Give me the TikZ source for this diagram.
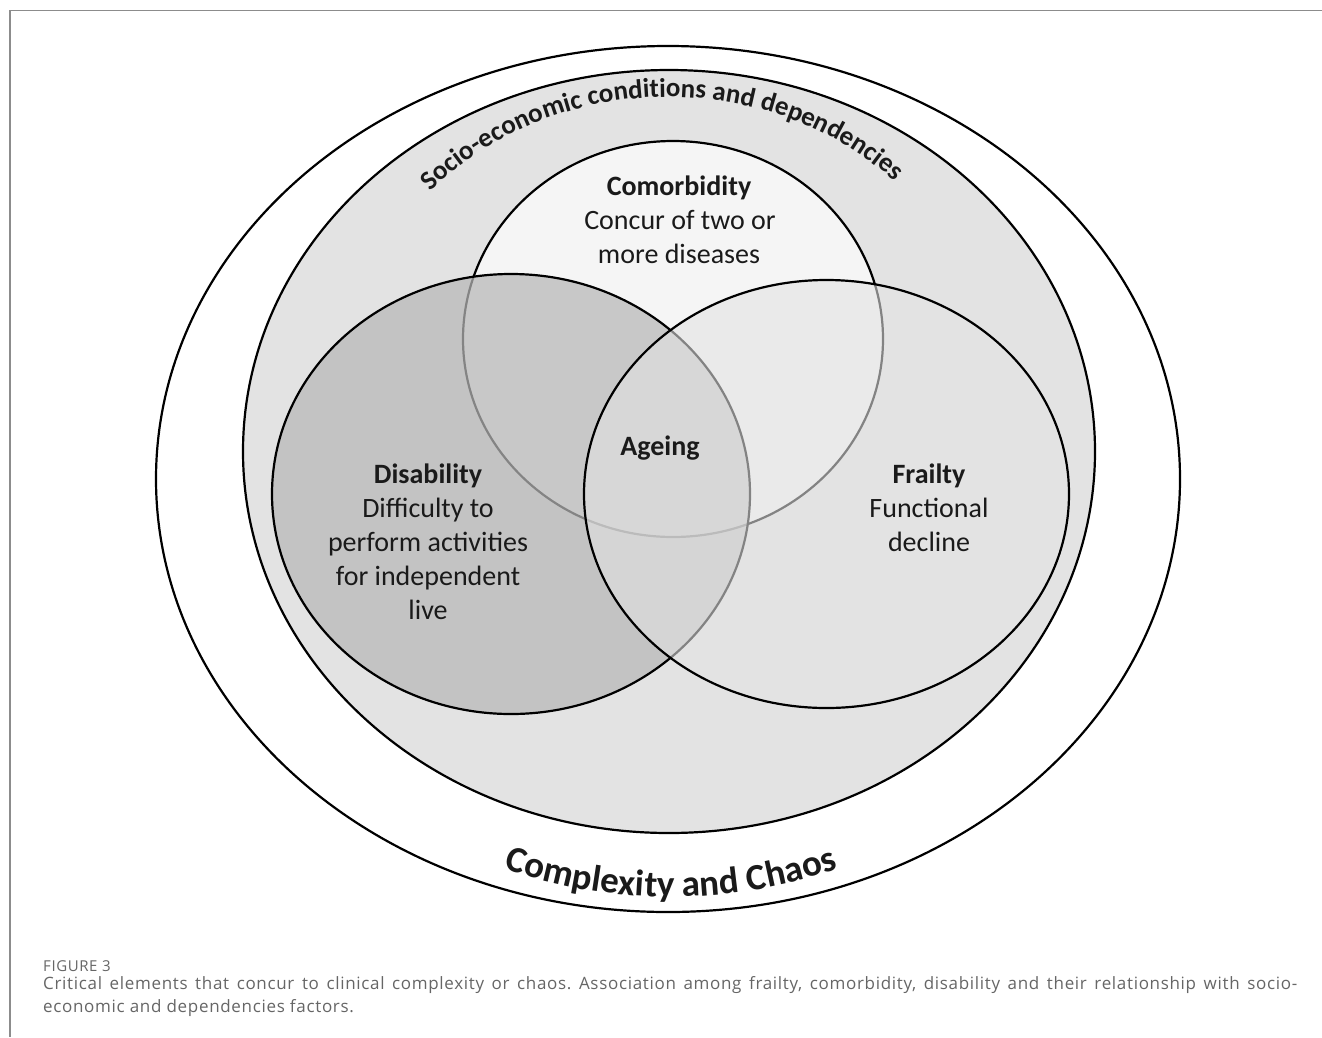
\documentclass[tikz,border=0pt]{standalone}
\usepackage{fontspec}
\setmainfont{Carlito}
\newfontfamily\capfont[LetterSpace=4]{Open Sans}
\usetikzlibrary{decorations.text}
\definecolor{txt}{HTML}{1A1A1A}
\definecolor{framecol}{HTML}{8C8C8C}
\definecolor{capcol}{HTML}{666666}
\definecolor{sociofill}{HTML}{E3E3E3}
\definecolor{disfill}{HTML}{B8B8B8}
\definecolor{frailfill}{HTML}{E3E3E3}
\begin{document}
\begin{tikzpicture}[x=1pt,y=-1pt,
  ring/.style={draw=black, line width=2.2pt},
  lbl/.style={font=\fontsize{28}{34}\selectfont, text=txt, anchor=base, inner sep=0pt},
  hd/.style={lbl, font=\fontsize{28}{34}\selectfont\bfseries},
  capstyle/.style={anchor=base west, inner sep=0pt, text=capcol}]
\useasboundingbox (0,0) rectangle (1322,1037);
\fill[white] (0,0) rectangle (1322,1037);
\draw[framecol, line width=1.4pt] (1322,10.5) -- (10,10.5) -- (10,1037);
% shapes
\draw[ring, fill=white] (668,479) ellipse [x radius=512, y radius=433];
\draw[ring, fill=sociofill] (669,451.5) ellipse [x radius=426, y radius=381.5];
\draw[ring, fill=white, fill opacity=0.65] (673,339) ellipse [x radius=210, y radius=198];
\draw[ring, fill=disfill, fill opacity=0.72] (511,494) ellipse [x radius=239, y radius=220];
\draw[ring, fill=frailfill, fill opacity=0.58] (826.5,494) ellipse [x radius=242.5, y radius=214];
% curved texts
\path[decorate, decoration={text along path, text align=center,
  text={|\color{txt}\fontsize{27}{32}\selectfont\bfseries|Socio-economic conditions and dependencies}}]
  (668,386) ++(205:321 and 289) arc[start angle=205, end angle=332.2, x radius=321, y radius=289];
\path[decorate, decoration={text along path, text align=center,
  text={|\color{txt}\fontsize{37}{42}\selectfont\bfseries|Complexity and Chaos}}]
  (671,397) ++(115:500) arc[start angle=115, end angle=65, radius=500];
% comorbidity
\node[hd] (como1) at (679,195) {Comorbidity};
\node[lbl] (como2) at (680,229) {Concur of two or};
\node[lbl] (como3) at (679,263) {more diseases};
% ageing
\node[hd] (age) at (660,455) {Ageing};
% disability
\node[hd] (dis1) at (428,483) {Disability};
\node[lbl] (dis2) at (428,517) {Difficulty to};
\node[lbl] (dis3) at (428,551) {perform activities};
\node[lbl] (dis4) at (428,585) {for independent};
\node[lbl] (dis5) at (428,619) {live};
% frailty
\node[hd] (fr1) at (929,483) {Frailty};
\node[lbl] (fr2) at (929,517) {Functional};
\node[lbl] (fr3) at (929,551) {decline};
% caption
\node[capstyle, font=\capfont\fontsize{15}{17}\selectfont] (fig) at (43,971) {FIGURE 3};
\node[capstyle, font=\capfont\fontsize{17}{23}\selectfont\frenchspacing] (cap1) at (43,989)
  {\makebox[1254pt][s]{Critical elements that concur to clinical complexity or chaos. Association among frailty, comorbidity, disability and their relationship with socio-}};
\node[capstyle, font=\capfont\fontsize{17}{23}\selectfont\frenchspacing] (cap2) at (43,1012) {economic and dependencies factors.};
\end{tikzpicture}
\end{document}
